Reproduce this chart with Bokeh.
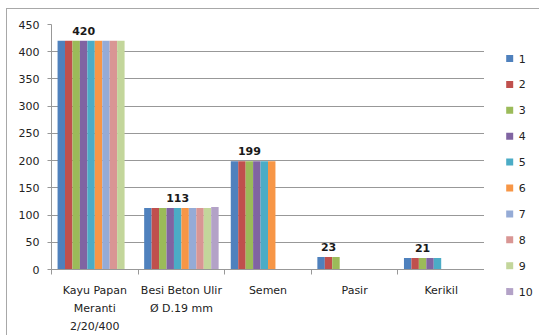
from bokeh.plotting import figure
from bokeh.layouts import row, column
from bokeh.models import Range1d, FixedTicker, ColumnDataSource
from bokeh.embed import file_html
from bokeh.resources import INLINE
from bokeh.core.properties import value

# Material quantities per item, one list per series (None = no bar)
categories = ["Kayu Papan\nMeranti\n2/20/400", "Besi Beton Ulir\nØ D.19 mm",
              "Semen", "Pasir", "Kerikil"]
series_names = ["1", "2", "3", "4", "5", "6", "7", "8", "9", "10"]
s1 = [420, 113, 199, 23, 21]
s2 = [420, 113, 199, 23, 21]
s3 = [420, 113, 199, 23, 21]
s4 = [420, 113, 199, None, 21]
s5 = [420, 113, 199, None, 21]
s6 = [420, 113, 199, None, None]
s7 = [420, 113, None, None, None]
s8 = [420, 113, None, None, None]
s9 = [420, 113, None, None, None]
s10 = [None, 115, None, None, None]
series = [s1, s2, s3, s4, s5, s6, s7, s8, s9, s10]
colors = ["#4F81BD", "#C0504D", "#9BBB59", "#8064A2", "#4BACC6",
          "#F79646", "#95ABD6", "#D99694", "#C3D69B", "#B3A2C7"]

# value labels and the series each one sits above
label_values = ["420", "113", "199", "23", "21"]
label_series = [4, 5, 3, 2, 3]

FONT = "DejaVu Sans"
GRID = "#989898"
TEXT = "#222222"
group_pad = 0.07
bar_w = 0.086

PLOT_H = 326
LEGEND_W = 55


def slot_x(cat_idx, ser_idx):
    # ser_idx is 1-based
    return cat_idx + group_pad + bar_w * (ser_idx - 0.5)


p = figure(width=477, height=PLOT_H, output_backend="svg", toolbar_location=None,
           x_range=Range1d(0, len(categories)), y_range=Range1d(0, 450),
           min_border_left=44, min_border_top=15, min_border_right=0,
           min_border_bottom=65)
p.outline_line_color = None
p.background_fill_color = "white"
p.border_fill_color = "white"

# bars
for j, (vals, col) in enumerate(zip(series, colors), start=1):
    xs, tops = [], []
    for i, v in enumerate(vals):
        if v is not None:
            xs.append(slot_x(i, j))
            tops.append(v)
    src = ColumnDataSource(dict(x=xs, top=tops))
    p.vbar(x="x", top="top", width=bar_w, bottom=0, source=src,
           fill_color=col, line_color=None)

# data labels
lab_src = ColumnDataSource(dict(
    x=[slot_x(i, s) for i, s in enumerate(label_series)],
    y=[int(v) for v in label_values],
    t=label_values))
p.text(x="x", y="y", text="t", source=lab_src, text_font=value(FONT),
       text_font_style="bold", text_font_size="11px", text_color="#1a1a1a",
       text_align="center", text_baseline="alphabetic", y_offset=-10)

# y axis
p.yaxis.ticker = FixedTicker(ticks=list(range(0, 451, 50)))
p.yaxis.axis_line_color = GRID
p.yaxis.major_tick_line_color = GRID
p.yaxis.major_tick_out = 4
p.yaxis.major_tick_in = 0
p.yaxis.minor_tick_line_color = None
p.yaxis.major_label_standoff = 8
p.yaxis.major_label_text_font = FONT
p.yaxis.major_label_text_font_size = "11px"
p.yaxis.major_label_text_color = TEXT

# x axis: labels in the middle of each category, ticks on boundaries
p.xaxis.ticker = FixedTicker(ticks=[i + 0.5 for i in range(len(categories))],
                             minor_ticks=list(range(len(categories) + 1)))
p.xaxis.major_label_overrides = {i + 0.5: c for i, c in enumerate(categories)}
p.xaxis.major_tick_line_color = None
p.xaxis.major_tick_out = 5
p.xaxis.minor_tick_line_color = GRID
p.xaxis.minor_tick_out = 5
p.xaxis.minor_tick_in = 0
p.xaxis.axis_line_color = GRID
p.xaxis.major_label_standoff = 9
p.xaxis.major_label_text_font = FONT
p.xaxis.major_label_text_font_size = "11px"
p.xaxis.major_label_text_color = TEXT
p.xaxis.major_label_text_line_height = 1.4

p.xgrid.grid_line_color = None
p.ygrid.grid_line_color = GRID
p.ygrid.grid_line_width = 1

# legend column on the right: pixel-sized coordinate space
lg = figure(frame_width=LEGEND_W, frame_height=PLOT_H, output_backend="svg",
            toolbar_location=None,
            x_range=Range1d(0, LEGEND_W), y_range=Range1d(0, PLOT_H),
            min_border=0, min_border_left=0, min_border_right=0,
            min_border_top=0, min_border_bottom=0)
lg.axis.visible = False
lg.grid.visible = False
lg.outline_line_color = None
lg.border_fill_color = "white"
lg.background_fill_color = "white"

first_row, row_pitch, swatch = 277, 25.9, 7
rows_y = [first_row - k * row_pitch for k in range(len(series_names))]
leg_src = ColumnDataSource(dict(y=rows_y, color=colors, name=series_names))
lg.rect(x=25.2, y="y", width=swatch, height=swatch, fill_color="color",
        line_color=None, source=leg_src)
lg.text(x=34.3, y="y", text="name", source=leg_src, text_font=value(FONT),
        text_font_size="11px", text_color=TEXT, text_align="left",
        text_baseline="middle")

layout = row(p, column(lg), margin=(8, 0, 0, 6),
             styles={"border-left": "1px solid #a8a8a8",
                     "border-top": "1px solid #a8a8a8",
                     "background-color": "white"})

open("out.html", "w").write(file_html(layout, INLINE))
